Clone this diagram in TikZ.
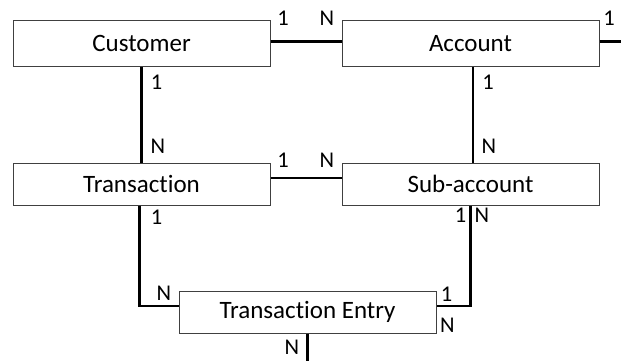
\documentclass[tikz,border=0pt]{standalone}
\usepackage{fontspec}
\setmainfont[Ligatures=NoCommon]{Carlito}
\begin{document}
\begin{tikzpicture}[x=1pt,y=-1pt,
  entity/.style={draw=black!75,line width=1pt,fill=white,minimum width=257pt,inner sep=0pt,
    font=\fontsize{25}{28}\selectfont},
  tall/.style={minimum height=46pt},
  short/.style={minimum height=42pt},
  link/.style={line width=2.4pt,black},
  card/.style={inner sep=0pt,font=\fontsize{22.5}{24}\selectfont}]
\useasboundingbox (0,0) rectangle (621,361);

% entities
\node[entity,tall]  (cust) at (141.5,43.5)  {Customer};
\node[entity,tall]  (acct) at (470.5,43.5)  {Account};
\node[entity,short] (tran) at (141.5,184)   {Transaction};
\node[entity,short] (sub)  at (470.5,184)   {Sub-account};
\node[entity,short] (te)   at (307.5,312)   {Transaction Entry};

% free ends of the open relationships
\coordinate (acctout) at (621,41.5);
\coordinate (teout)   at (307.5,361);

% relationships
\draw[link] ([yshift=2pt]cust.east) -- ([yshift=2pt]acct.west);
\draw[link] ([yshift=2pt]acct.east) -- (acctout);
\draw[link] (cust.south) -- (tran.north);
\draw[link] ([xshift=2.5pt]acct.south) -- ([xshift=2.5pt]sub.north);
\draw[link] ([yshift=6pt]tran.east) -- ([yshift=6pt]sub.west);
\draw[link] ([xshift=-2pt]tran.south) |- ([yshift=6pt]te.west);
\draw[link] (sub.south) |- ([yshift=6pt]te.east);
\draw[link] (te.south) -- (teout);

% cardinalities
\node[card] (c1)  at (283,18.5)  {1};
\node[card] (c2)  at (327,18.5)  {N};
\node[card] (c3)  at (609,18.5)  {1};
\node[card] (c4)  at (156.5,82)  {1};
\node[card] (c5)  at (488,82)    {1};
\node[card] (c6)  at (158,146)   {N};
\node[card] (c7)  at (283,160)   {1};
\node[card] (c8)  at (327,160)   {N};
\node[card] (c9)  at (489,146)   {N};
\node[card] (c10) at (156.5,217.5) {1};
\node[card] (c11) at (460.5,215.5) {1};
\node[card] (c12) at (482,215.5)   {N};
\node[card] (c13) at (164,293)   {N};
\node[card] (c14) at (446.5,294.5) {1};
\node[card] (c15) at (447.5,325) {N};
\node[card] (c16) at (292,347)   {N};
\end{tikzpicture}
\end{document}
